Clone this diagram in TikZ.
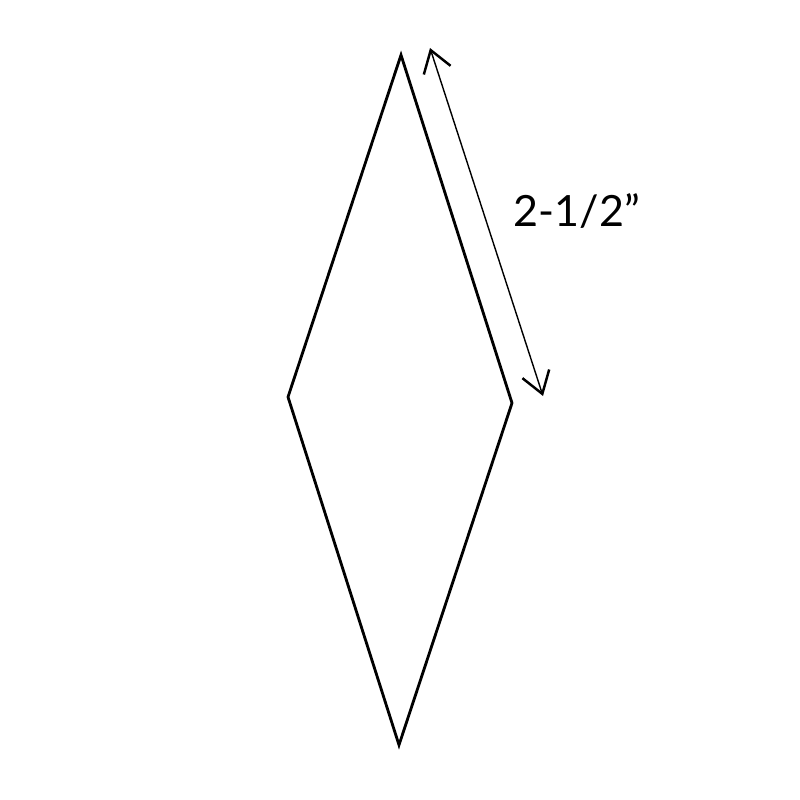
\documentclass[tikz,border=0pt]{standalone}
\usepackage{fontspec}
\setmainfont{Lato}
\usetikzlibrary{arrows.meta}

\begin{document}
\begin{tikzpicture}[x=0.02cm,y=-0.02cm,
        side/.style={line width=1.6pt,line join=miter},
        measure/.style={line width=0.8pt,{Straight Barb[length=12pt,width=16pt,line width=1.4pt]}-{Straight Barb[length=12pt,width=16pt,line width=1.4pt]}}]
            % Fix the page size
            \useasboundingbox (0,0) rectangle (800,800);

            % Corners of the diamond
            \coordinate (T) at (401,55);
            \coordinate (R) at (512,403);
            \coordinate (B) at (399,745);
            \coordinate (L) at (288,397);

            % Ends of the length arrow
            \coordinate (A0) at (430,48);
            \coordinate (A1) at (543,396);

            % Draw the diamond
            \draw[side] (T) -- (R) -- (B) -- (L) -- cycle;

            % Draw the length arrow
            \draw[measure] (A0) -- (A1);

            % Label of the side
            \node[font=\fontsize{24.5}{28}\selectfont] (len) at (577,211) {2-1/2”};
        \end{tikzpicture}
\end{document}
